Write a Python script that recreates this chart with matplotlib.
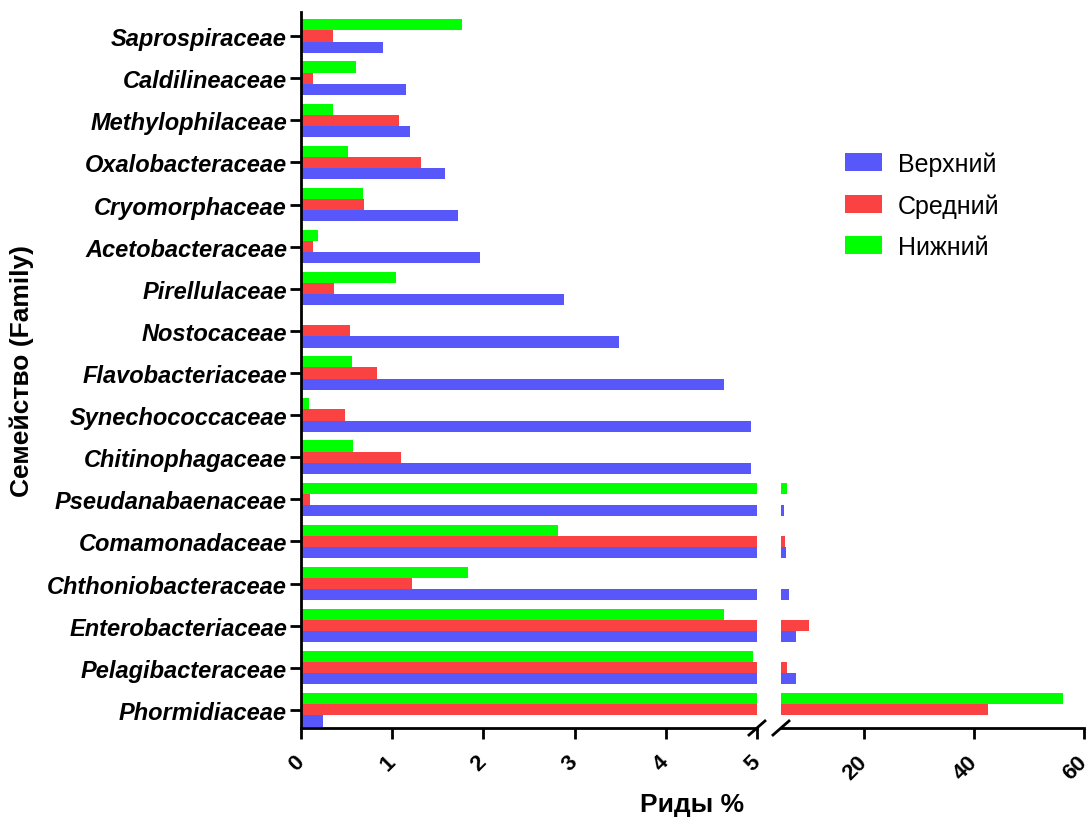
import matplotlib
matplotlib.use("Agg")
import matplotlib.pyplot as plt
import numpy as np

plt.rcParams['font.family'] = ['Liberation Sans', 'DejaVu Sans']

# families, top to bottom
families = ['Saprospiraceae', 'Caldilineaceae', 'Methylophilaceae', 'Oxalobacteraceae',
            'Cryomorphaceae', 'Acetobacteraceae', 'Pirellulaceae', 'Nostocaceae',
            'Flavobacteriaceae', 'Synechococcaceae', 'Chitinophagaceae', 'Pseudanabaenaceae',
            'Comamonadaceae', 'Chthoniobacteraceae', 'Enterobacteriaceae', 'Pelagibacteraceae',
            'Phormidiaceae']
upper = [0.90, 1.15, 1.20, 1.58, 1.72, 1.96, 2.88, 3.49, 4.64, 4.93, 4.93, 5.55,
         5.85, 6.45, 7.7, 7.7, 0.24]
middle = [0.35, 0.135, 1.07, 1.32, 0.69, 0.13, 0.36, 0.54, 0.83, 0.48, 1.10, 0.10,
          5.7, 1.22, 10.1, 6.0, 42.6]
lower = [1.77, 0.60, 0.35, 0.52, 0.68, 0.19, 1.04, 0.01, 0.56, 0.09, 0.57, 6.0,
         2.82, 1.83, 4.64, 4.96, 56.2]
series_names = ['Верхний', 'Средний', 'Нижний']
colors = ['#5858FA', '#FA4242', '#00FF00']

fig = plt.figure(figsize=(10.92, 8.2), dpi=100)
ax1 = fig.add_axes([0.2756, 0.1110, 0.4176, 0.8731])
ax2 = fig.add_axes([0.7152, 0.1110, 0.2775, 0.8731])

y = np.arange(len(families))
h = 0.265
for ax in (ax1, ax2):
    ax.barh(y + h, upper, h, color=colors[0], label=series_names[0])
    ax.barh(y, middle, h, color=colors[1], label=series_names[1])
    ax.barh(y - h, lower, h, color=colors[2], label=series_names[2])
    ax.set_ylim(len(families) - 1 + 0.43, -0.57)
    for s in ['top', 'right']:
        ax.spines[s].set_visible(False)
    ax.spines['bottom'].set_linewidth(2)
    ax.spines['left'].set_linewidth(2)
    ax.tick_params(width=2, length=8, labelsize=15)

ax1.set_xlim(0, 5)
ax1.set_xticks([0, 1, 2, 3, 4, 5])
ax1.set_yticks(y)
ax1.set_yticklabels(families, fontsize=17, fontweight='bold', fontstyle='italic')
ax1.tick_params(axis='y', pad=2)

ax2.set_xlim(5, 60)
ax2.set_xticks([20, 40, 60])
ax2.spines['left'].set_visible(False)
ax2.set_yticks([])

for ax in (ax1, ax2):
    ax.tick_params(axis='x', pad=14)
    for lab in ax.get_xticklabels():
        lab.set_rotation(45)
        lab.set_rotation_mode('anchor')
        lab.set_ha('right')
        lab.set_va('center')
        lab.set_fontweight('bold')
        lab.set_fontsize(16)

# break marks on the x axis
kw = dict(color='black', lw=2, clip_on=False)
ax1.plot([1.0 - 0.0175, 1.0 + 0.0175], [-0.0098, 0.0098], transform=ax1.transAxes, **kw)
ax2.plot([-0.0264, 0.0264], [-0.0098, 0.0098], transform=ax2.transAxes, **kw)

fig.text(0.634, 0.018, 'Риды %', ha='center', va='center', fontsize=19, fontweight='bold')
fig.text(0.02, 0.547, 'Семейство (Family)', ha='center', va='center', rotation=90,
         fontsize=19, fontweight='bold')

ax2.legend(loc='upper left', bbox_to_anchor=(0.753, 0.842), bbox_transform=fig.transFigure,
           frameon=False, fontsize=18, handlelength=1.48, handleheight=0.72,
           labelspacing=0.7, handletextpad=0.64)

fig.savefig('out.png', dpi=100)
